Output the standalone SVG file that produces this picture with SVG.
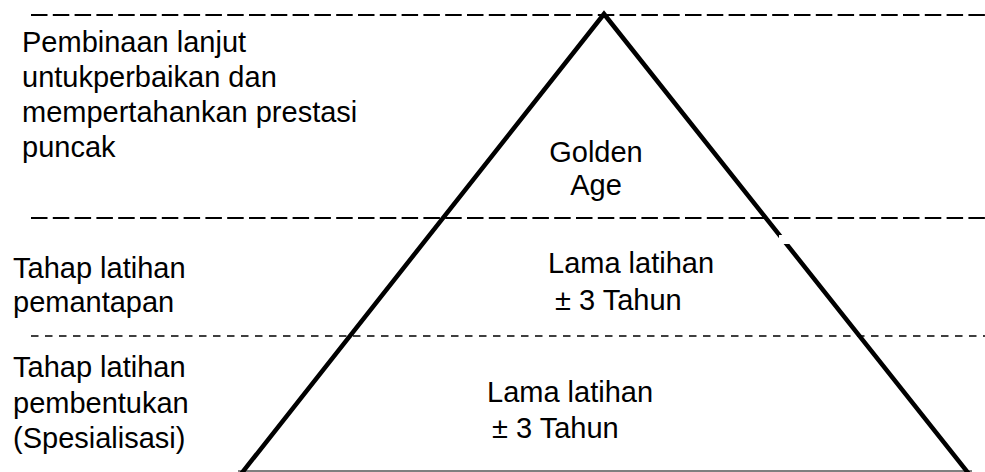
<svg xmlns="http://www.w3.org/2000/svg" width="985" height="472" viewBox="0 0 985 472">
  <style>
    .txt { font-family: "Liberation Sans", Arial, sans-serif; font-size: 29px; fill: #000; }
    .mid { text-anchor: middle; }
    .dash-major { stroke: #000; stroke-width: 2; stroke-dasharray: 16.5 5.3; fill: none; }
    .dash-minor { stroke: #000; stroke-width: 1.6; stroke-dasharray: 7.5 6.5; fill: none; }
    .pyramid { stroke: #000; stroke-width: 4.5; fill: none; stroke-linejoin: miter; }
  </style>
  <rect width="985" height="472" fill="#fff"/>

  <!-- stage boundaries -->
  <g id="boundaries">
    <line class="dash-major" x1="31" y1="15" x2="985" y2="15"/>
    <line class="dash-major" x1="31" y1="218" x2="985" y2="218"/>
    <line class="dash-minor" x1="31" y1="336" x2="985" y2="336"/>
  </g>

  <!-- pyramid outline -->
  <g id="pyramid">
    <line x1="238" y1="471" x2="972" y2="471" stroke="#555" stroke-width="1.5"/>
    <polyline class="pyramid" points="241,474 604,14 969,474"/>
    <rect x="779" y="235" width="14" height="9" fill="#fff"/>
  </g>

  <!-- stage descriptions -->
  <g id="stage-peak">
    <text class="txt" x="22" y="52">Pembinaan lanjut</text>
    <text class="txt" x="22" y="87">untukperbaikan dan</text>
    <text class="txt" x="22" y="122">mempertahankan prestasi</text>
    <text class="txt" x="22" y="157">puncak</text>
  </g>
  <g id="stage-stabilization">
    <text class="txt" x="13" y="278">Tahap latihan</text>
    <text class="txt" x="13" y="312">pemantapan</text>
  </g>
  <g id="stage-formation">
    <text class="txt" x="13" y="377">Tahap latihan</text>
    <text class="txt" x="13" y="413">pembentukan</text>
    <text class="txt" x="13" y="448">(Spesialisasi)</text>
  </g>

  <!-- pyramid levels -->
  <g id="level-golden">
    <text class="txt mid" x="596" y="162">Golden</text>
    <text class="txt mid" x="596" y="195">Age</text>
  </g>
  <g id="level-middle">
    <text class="txt" x="548" y="273">Lama latihan</text>
    <text class="txt" x="555" y="310">± 3 Tahun</text>
  </g>
  <g id="level-base">
    <text class="txt" x="487" y="402">Lama latihan</text>
    <text class="txt" x="492" y="438">± 3 Tahun</text>
  </g>
</svg>
